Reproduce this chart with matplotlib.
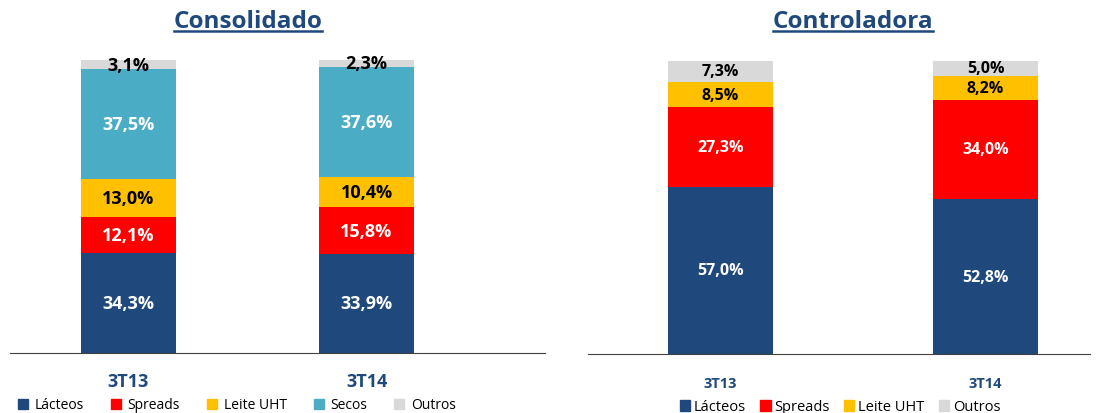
import numpy as np
import matplotlib.pyplot as plt
import matplotlib.font_manager as fm
from matplotlib.patches import Patch
from matplotlib.lines import Line2D

plt.rcParams['font.family'] = ['Open Sans', 'DejaVu Sans']

# pick a normal-width bold Open Sans file (avoid condensed variants)
bold_files = [f.fname for f in fm.fontManager.ttflist
              if f.name == 'Open Sans' and f.weight in (700, 'bold')
              and 'ondensed' not in f.fname and f.stretch in ('normal', 500)]
if bold_files:
    def bold(size):
        return fm.FontProperties(fname=bold_files[0], size=size)
else:
    def bold(size):
        return fm.FontProperties(family='Open Sans', weight='bold', size=size)

quarters = ['3T13', '3T14']

# Consolidado (%)
cons_lacteos = [34.3, 33.9]
cons_spreads = [12.1, 15.8]
cons_uht = [13.0, 10.4]
cons_secos = [37.5, 37.6]
cons_outros = [3.1, 2.3]

# Controladora (%)
ctrl_lacteos = [57.0, 52.8]
ctrl_spreads = [27.3, 34.0]
ctrl_uht = [8.5, 8.2]
ctrl_outros = [7.3, 5.0]

c_lac = '#1F497D'
c_spr = '#FF0000'
c_uht = '#FFC000'
c_sec = '#4BACC6'
c_out = '#D9D9D9'
title_col = '#1F497D'

fig = plt.figure(figsize=(11.02, 4.14), dpi=100)
W, H = 1102, 414


def stacked(ax, series, width, fs):
    x = np.arange(len(quarters))
    bottom = np.zeros(len(quarters))
    for vals, col, txtcol in series:
        vals = np.array(vals)
        ax.bar(x, vals, width, bottom=bottom, color=col, edgecolor='none')
        for xi, b, v in zip(x, bottom, vals):
            ax.text(xi, b + v / 2, f'{v:.1f}%'.replace('.', ','), ha='center', va='center',
                    color=txtcol, fontproperties=bold(fs))
        bottom += vals
    ax.set_ylim(0, 100)
    ax.set_yticks([])
    for s in ['top', 'right', 'left']:
        ax.spines[s].set_visible(False)
    ax.spines['bottom'].set_color('#404040')
    ax.set_xticks(x)
    ax.tick_params(axis='x', length=0)


# left panel
ax1 = fig.add_axes([10 / W, (H - 354) / H, 535 / W, 293 / H])
stacked(ax1, [(cons_lacteos, c_lac, 'white'), (cons_spreads, c_spr, 'white'),
              (cons_uht, c_uht, 'black'), (cons_secos, c_sec, 'white'),
              (cons_outros, c_out, 'black')], 0.40, 13)
ax1.set_xlim(-0.498, 1.75)
ax1.set_xticklabels(quarters, fontproperties=bold(13), color=title_col)
ax1.tick_params(axis='x', pad=14)

# right panel
ax2 = fig.add_axes([588 / W, (H - 355) / H, 502 / W, 293 / H])
stacked(ax2, [(ctrl_lacteos, c_lac, 'white'), (ctrl_spreads, c_spr, 'white'),
              (ctrl_uht, c_uht, 'black'), (ctrl_outros, c_out, 'black')], 0.396, 11.5)
ax2.set_xlim(-0.5, 1.394)
ax2.set_xticklabels(quarters, fontproperties=bold(10.5), color=title_col)
ax2.tick_params(axis='x', pad=16)

# titles with underline
t1 = fig.text(248 / W, 1 - 22 / H, 'Consolidado', ha='center', va='center',
              fontproperties=bold(17.5), color=title_col)
t2 = fig.text(853 / W, 1 - 22 / H, 'Controladora', ha='center', va='center',
              fontproperties=bold(17.5), color=title_col)
fig.canvas.draw()
r = fig.canvas.get_renderer()
for t in (t1, t2):
    bb = t.get_window_extent(r).transformed(fig.transFigure.inverted())
    fig.add_artist(Line2D([bb.x0, bb.x1], [bb.y0 + 0.006, bb.y0 + 0.006],
                          transform=fig.transFigure, color=title_col, lw=1.8))

# legends
h1 = [Patch(color=c) for c in (c_lac, c_spr, c_uht, c_sec, c_out)]
fig.legend(h1, ['Lácteos', 'Spreads', 'Leite UHT', 'Secos', 'Outros'],
           loc='center', bbox_to_anchor=(237 / W, 1 - 406 / H), ncol=5, frameon=False,
           fontsize=10, handlelength=0.7, handleheight=0.7, handletextpad=0.5,
           columnspacing=1.95, borderaxespad=0)
h2 = [Patch(color=c) for c in (c_lac, c_spr, c_uht, c_out)]
fig.legend(h2, ['Lácteos', 'Spreads', 'Leite UHT', 'Outros'],
           loc='center', bbox_to_anchor=(840 / W, 1 - 408 / H), ncol=4, frameon=False,
           fontsize=10.5, handlelength=0.7, handleheight=0.7, handletextpad=0.25,
           columnspacing=1.0, borderaxespad=0)

fig.savefig('out.png', dpi=100)
